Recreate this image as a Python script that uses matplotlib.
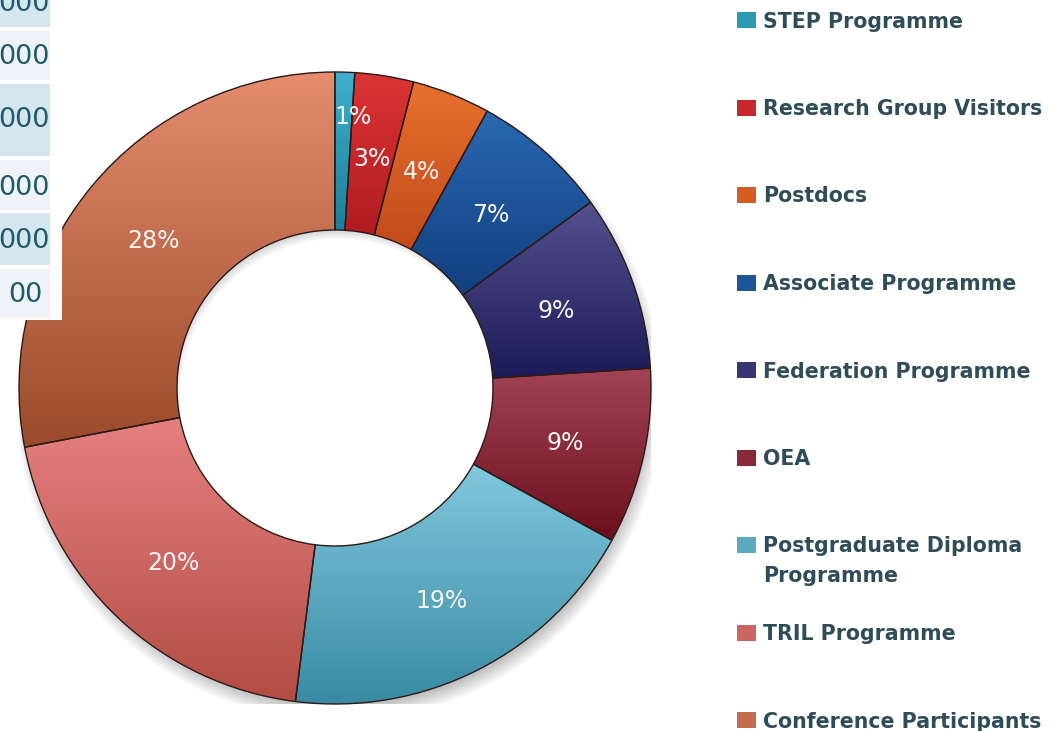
import numpy as np
import matplotlib
matplotlib.use("Agg")
import matplotlib.pyplot as plt
from matplotlib.colors import to_rgb
from matplotlib.patches import Rectangle

# ---------------- data ----------------
categories = ["STEP Programme", "Research Group Visitors", "Postdocs",
              "Associate Programme", "Federation Programme", "OEA",
              "Postgraduate Diploma\nProgramme", "TRIL Programme",
              "Conference Participants"]
shares = [1, 3, 4, 7, 9, 9, 19, 20, 28]

# partial table visible at top-left (clipped by the image edge)
table_texts = ["000", "000", "000", "000", "000", "00"]

# ---------------- style ----------------
top_colors = ["#3fb0cc", "#dc3434", "#e8702e", "#2a68b0", "#55508e",
              "#a34456", "#80c8dc", "#e58080", "#e58d6e"]
bot_colors = ["#1d7f9a", "#b01c22", "#c24a1a", "#123f80", "#1b1b58",
              "#6b0e1c", "#3a8aa4", "#b24c44", "#9a4a2c"]
W, H = 1061, 731

fig = plt.figure(figsize=(W / 100, H / 100), dpi=100)
fig.patch.set_facecolor("white")

cx, cy, R = 335, 388, 316
ax = fig.add_axes([(cx - R) / W, (H - cy - R) / H, 2 * R / W, 2 * R / H])

# soft drop shadow
g = np.linspace(-1.1, 1.1, 500)
X, Y = np.meshgrid(g, g)
rr = np.hypot(X - 0.012, Y + 0.03)
alpha = 0.28 * np.clip((1.03 - rr) / 0.06, 0, 1) * np.clip((rr - 0.5) / 0.05, 0, 1)
shadow = np.zeros((500, 500, 4))
shadow[..., 3] = alpha
ax.imshow(shadow, extent=[-1.1, 1.1, -1.1, 1.1], origin="lower", zorder=0)

wedges, _ = ax.pie(shares, startangle=90, counterclock=False, radius=1,
                   wedgeprops=dict(width=0.5, edgecolor="#2a1a18", linewidth=1.0))

for i, w in enumerate(wedges):
    w.set_facecolor("none")
    w.set_zorder(3)
    bb = w.get_path().get_extents()
    c0, c1 = np.array(to_rgb(bot_colors[i])), np.array(to_rgb(top_colors[i]))
    t = np.linspace(0, 1, 128)[:, None, None]
    img = c0 + (c1 - c0) * t
    im = ax.imshow(img, extent=[bb.x0, bb.x1, bb.y0, bb.y1], origin="lower",
                   aspect="auto", zorder=2, interpolation="bilinear")
    im.set_clip_path(w)

    # percentage label
    mid = np.deg2rad((w.theta1 + w.theta2) / 2)
    rlab = 0.745
    if shares[i] < 2:
        mid -= np.deg2rad(2.0)
        rlab = 0.87
    ax.text(rlab * np.cos(mid), rlab * np.sin(mid) - 0.01, f"{shares[i]}%",
            ha="center", va="center", color="#f6f2f0", fontsize=17, zorder=5)

ax.set_xlim(-1, 1)
ax.set_ylim(-1, 1)
ax.set_aspect("equal")
ax.axis("off")

# ---------------- overlay (legend + clipped table) in pixel units ----------------
ov = fig.add_axes([0, 0, 1, 1], zorder=10)
ov.set_xlim(0, W)
ov.set_ylim(H, 0)
ov.axis("off")
ov.patch.set_alpha(0)

# legend
for i, lab in enumerate(categories):
    yc = 20 + 87.5 * i
    mid_col = (np.array(to_rgb(top_colors[i])) + np.array(to_rgb(bot_colors[i]))) / 2
    ov.add_patch(Rectangle((737, yc - 8), 19, 16, facecolor=mid_col,
                           edgecolor="none"))
    ov.text(763, yc - 8.5, lab, ha="left", va="top", fontsize=14.8,
            fontweight="bold", color="#2f4d58", linespacing=1.58)

# clipped table at top-left
ov.add_patch(Rectangle((0, 0), 62, 320, facecolor="white", edgecolor="none"))
rows = [(0, 27), (31, 80), (84, 156), (160, 210), (213, 265), (269, 318)]
text_y = [4, 57, 120, 188, 241, 295]
text_x = [50, 50, 50, 50, 50, 42]
for k, (y0, y1) in enumerate(rows):
    ov.add_patch(Rectangle((0, y0), 50, y1 - y0,
                           facecolor="#d6e6ee" if k % 2 == 0 else "#edf3f7",
                           edgecolor="none"))
    ov.text(text_x[k], text_y[k], table_texts[k], ha="right", va="center",
            fontsize=19.5, color="#1f5b6b")

fig.savefig("out.png", dpi=100, facecolor="white")
